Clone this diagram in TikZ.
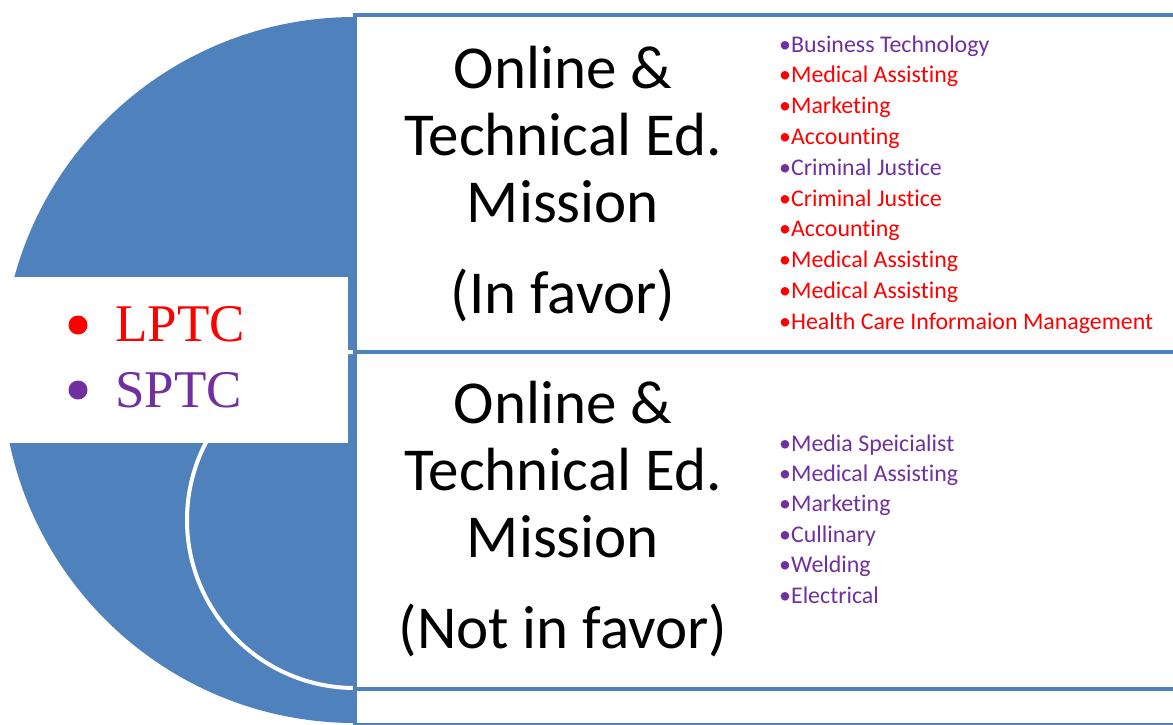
\documentclass[tikz,border=0pt]{standalone}
\usepackage{fontspec}
\setmainfont{Carlito}[Ligatures=NoCommon]
\newfontfamily\timesfont{Liberation Serif}
\usetikzlibrary{positioning}
\definecolor{wedge}{HTML}{4F81BD}
\definecolor{lptc}{HTML}{FF0000}
\definecolor{sptc}{HTML}{7030A0}

\begin{document}
\begin{tikzpicture}[x=1pt,y=-1pt,
  panel/.style={draw=wedge, line width=4.5pt, fill=white},
  title/.style={align=center, inner sep=0pt, anchor=base, font=\fontsize{61}{67}\selectfont},
  item/.style={anchor=base west, inner sep=0pt, font=\fontsize{23.9}{28}\selectfont},
  dot/.style={circle, inner sep=0pt, minimum size=19pt},
  tag/.style={anchor=base west, inner sep=0pt, font=\timesfont\fontsize{53}{60}\selectfont}]
\useasboundingbox (0,0) rectangle (1173,724);
\clip (0,0) rectangle (1173,724);
\fill[wedge] (355,370) circle (353);
\draw[white, line width=4pt] (355,520) circle (168);
\node[fill=white, inner sep=0pt, minimum width=348pt, minimum height=166pt, anchor=north west] (legend) at (0,277) {};
\node[dot, fill=lptc] (lptcdot) at (78,325) {};
\node[dot, fill=sptc] (sptcdot) at (78,390) {};
\node[tag, text=lptc] (lptcname) at (115,341) {LPTC};
\node[tag, text=sptc] (sptcname) at (115,407) {SPTC};
\draw[panel] (355,15) rectangle (1190,352);
\draw[panel] (355,352) rectangle (1190,689);
\draw[panel] (355,689) rectangle (1190,725);
\node[title] (favor) at (563,313) {Online \&\\Technical Ed.\\Mission\\[24pt](In favor)};
\node[title] (against) at (563,648) {Online \&\\Technical Ed.\\Mission\\[24pt](Not in favor)};
\foreach \c/\t [count=\i] in {sptc/Business Technology, lptc/Medical Assisting, lptc/Marketing,
    lptc/Accounting, sptc/Criminal Justice, lptc/Criminal Justice, lptc/Accounting,
    lptc/Medical Assisting, lptc/Medical Assisting, lptc/Health Care Informaion Management}
  \node[item, text=\c] (pro\i) at (779,{52+30.8*(\i-1)}) {•\t};
\foreach \t [count=\i] in {Media Speicialist, Medical Assisting, Marketing,
    Cullinary, Welding, Electrical}
  \node[item, text=sptc] (con\i) at (779,{451+30.4*(\i-1)}) {•\t};
\end{tikzpicture}
\end{document}
